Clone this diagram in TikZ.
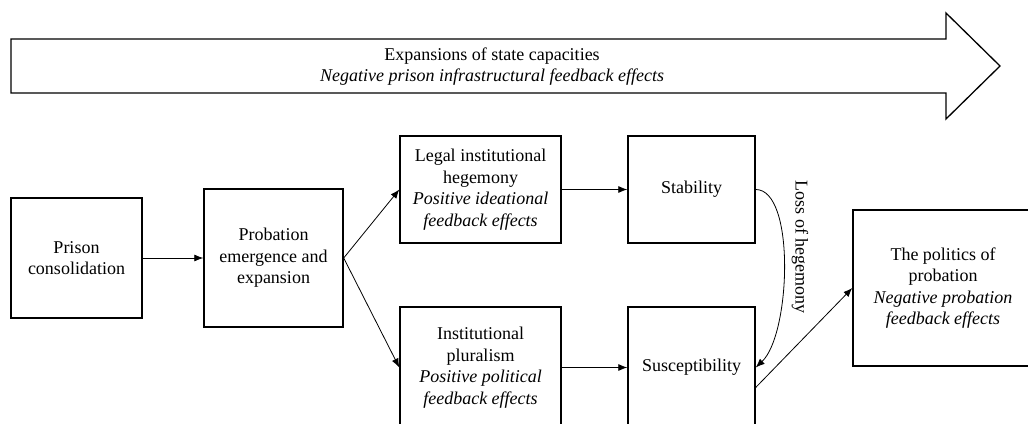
\documentclass[tikz,border=0pt]{standalone}
\usepackage{fontspec}
\setmainfont{Liberation Serif}
\usetikzlibrary{arrows.meta}
\tikzset{
  stage/.style={draw, line width=1.4pt, align=center, inner sep=0pt,
    font=\fontsize{18}{21.5}\selectfont},
  link/.style={line width=0.8pt, -{Latex[length=9pt, width=7pt]}}
}

\begin{document}
\begin{tikzpicture}[x=1pt, y=-1pt]
      \useasboundingbox (0,0) rectangle (1028,423);
      \clip (0,0) rectangle (1028,423);

      % Big arrow for state capacities
      \draw[line width=1.3pt] (11,39) -- (946,39) -- (946,13) -- (1000,66)
        -- (946,119) -- (946,93) -- (11,93) -- cycle;
      \node[align=center, font=\fontsize{18}{21}\selectfont] (capacities) at (492,67)
        {Expansions of state capacities\\ \textit{Negative prison infrastructural feedback effects}};

      % Boxes for the first two stages
      \node[stage, minimum width=131pt, minimum height=120pt] (prison) at (76.5,258)
        {Prison\\ consolidation};
      \node[stage, minimum width=139pt, minimum height=138pt] (probation) at (273.5,258)
        {Probation\\ emergence and\\ expansion};

      % Box for the two paths
      \node[stage, minimum width=161pt, minimum height=107pt] (legal) at (480.5,189.5)
        {Legal institutional\\ hegemony\\ \textit{Positive ideational}\\ \textit{feedback effects}};
      \node[stage, minimum width=161pt, minimum height=121pt] (pluralism) at (480.5,367.5)
        {Institutional\\ pluralism\\ \textit{Positive political}\\ \textit{feedback effects}};

      % Box for the outcomes
      \node[stage, minimum width=127pt, minimum height=107pt] (stability) at (691.5,189.5)
        {Stability};
      \node[stage, minimum width=127pt, minimum height=121pt] (suscept) at (691.5,367.5)
        {Susceptibility};

      % Box for the politics of probation
      \node[stage, minimum width=180pt, minimum height=156pt] (politics) at (943,288)
        {The politics of\\ probation\\ \textit{Negative probation}\\ \textit{feedback effects}};

      % Connectors
      \draw[link] (prison) -- (probation);
      \draw[link] (probation.east) -- (legal.west);
      \draw[link] (probation.east) -- (pluralism.west);
      \draw[link] (legal) -- (stability);
      \draw[link] (pluralism) -- (suscept);
      \draw[link] (stability.east) .. controls +(40,0) and +(35,-33) .. (suscept.east);
      \node[rotate=-90, font=\fontsize{18}{21}\selectfont] (loss) at (800,247) {Loss of hegemony};
      \draw[link] ([yshift=-20pt]suscept.east) -- (politics.west);
    \end{tikzpicture}
\end{document}
